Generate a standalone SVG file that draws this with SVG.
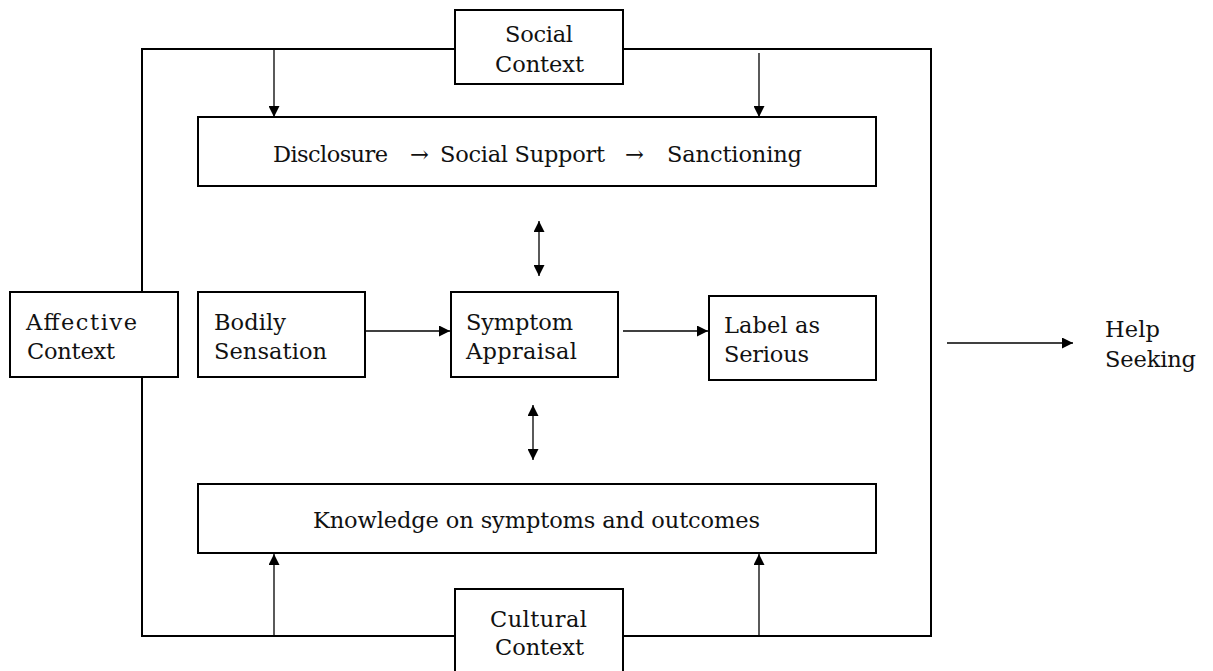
<svg xmlns="http://www.w3.org/2000/svg" width="1213" height="671" viewBox="0 0 1213 671">
<defs>
<marker id="ah" viewBox="0 0 10 10" refX="10" refY="5" markerWidth="12" markerHeight="11" markerUnits="userSpaceOnUse" orient="auto-start-reverse">
<path d="M0,0 L10,5 L0,10 z" fill="#000"/>
</marker>
<style>
.box{fill:#fff;stroke:#000;stroke-width:2}
.frame{fill:none;stroke:#000;stroke-width:2}
.conn{fill:none;stroke:#000;stroke-width:1.3}
text{font-family:"DejaVu Serif","Liberation Serif",serif;font-size:22.5px;fill:#111}
</style>
</defs>
<rect width="1213" height="671" fill="#fff"/>
<g id="frame"><rect class="frame" x="142" y="49" width="789" height="587"/></g>
<g id="connectors">
<line class="conn" x1="274" y1="49" x2="274" y2="117" marker-end="url(#ah)"/>
<line class="conn" x1="759" y1="53" x2="759" y2="117" marker-end="url(#ah)"/>
<line class="conn" x1="539" y1="221" x2="539" y2="276" marker-start="url(#ah)" marker-end="url(#ah)"/>
<line class="conn" x1="365" y1="331" x2="450" y2="331" marker-end="url(#ah)"/>
<line class="conn" x1="623" y1="331" x2="708" y2="331" marker-end="url(#ah)"/>
<line class="conn" x1="947" y1="343" x2="1073" y2="343" marker-end="url(#ah)"/>
<line class="conn" x1="533" y1="405" x2="533" y2="460" marker-start="url(#ah)" marker-end="url(#ah)"/>
<line class="conn" x1="274" y1="636" x2="274" y2="554" marker-end="url(#ah)"/>
<line class="conn" x1="759" y1="636" x2="759" y2="554" marker-end="url(#ah)"/>
</g>
<g id="social-context"><rect class="box" x="455" y="10" width="168" height="74"/>
<text x="505" y="42" textLength="68">Social</text><text x="495" y="72" textLength="89">Context</text></g>
<g id="disclosure"><rect class="box" x="198" y="117" width="678" height="69"/>
<text y="162"><tspan x="273" textLength="115">Disclosure</tspan><tspan x="410" textLength="22">→</tspan><tspan x="440" textLength="165">Social Support</tspan><tspan x="625" textLength="25">→</tspan><tspan x="667" textLength="135">Sanctioning</tspan></text></g>
<g id="affective-context"><rect class="box" x="10" y="292" width="168" height="85"/>
<text x="26" y="330" textLength="111">Affective</text><text x="27" y="359" textLength="88">Context</text></g>
<g id="bodily-sensation"><rect class="box" x="198" y="292" width="167" height="85"/>
<text x="214" y="330" textLength="72">Bodily</text><text x="214" y="359" textLength="113">Sensation</text></g>
<g id="symptom-appraisal"><rect class="box" x="451" y="292" width="167" height="85"/>
<text x="466" y="330" textLength="107">Symptom</text><text x="466" y="359" textLength="111">Appraisal</text></g>
<g id="label-serious"><rect class="box" x="709" y="296" width="167" height="84"/>
<text x="724" y="333" textLength="96">Label as</text><text x="724" y="362" textLength="85">Serious</text></g>
<g id="help-seeking"><text x="1105" y="337" textLength="55">Help</text><text x="1105" y="367" textLength="91">Seeking</text></g>
<g id="knowledge"><rect class="box" x="198" y="484" width="678" height="69"/>
<text x="313" y="528" textLength="447">Knowledge on symptoms and outcomes</text></g>
<g id="cultural-context"><rect class="box" x="455" y="589" width="168" height="95"/>
<text x="490" y="627" textLength="97">Cultural</text><text x="495" y="655" textLength="89">Context</text></g>
</svg>
